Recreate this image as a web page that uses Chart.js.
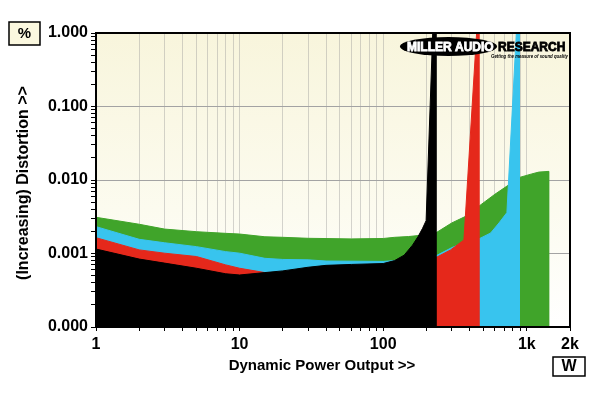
<!DOCTYPE html>
<html>
<head>
<meta charset="utf-8">
<script src="https://cdn.jsdelivr.net/npm/chart.js@4"></script>
<style>
  html, body { margin: 0; padding: 0; background: #fff; }
</style>
</head>
<body>
<canvas id="myChart" width="600" height="393"></canvas>
<script>
// power (W) / distortion (%)
const blackW   = [1, 2, 3, 5, 8, 10, 15, 20, 30, 40, 60, 100, 120, 140, 160, 175, 188, 199, 222, 233, 233];
const blackPct = [0.00115, 0.00084, 0.00074, 0.00063, 0.00053, 0.00051, 0.00055, 0.00058, 0.00065, 0.00069, 0.00071, 0.00073, 0.0008, 0.00095, 0.0013, 0.0017, 0.0022, 0.0028, 1.2, 1.2, 0.0001];

const redW   = [1, 2, 3, 5, 8, 10, 15, 20, 40, 100, 200, 233, 295, 365, 450, 464, 464];
const redPct = [0.00164, 0.00112, 0.00101, 0.00091, 0.0007, 0.00063, 0.00055, 0.00055, 0.0006, 0.00068, 0.0008, 0.00088, 0.00112, 0.00153, 1.2, 1.2, 0.0001];

const cyanW   = [1, 2, 3, 5, 8, 10, 15, 20, 30, 40, 100, 120, 200, 233, 300, 365, 464, 560, 640, 727, 850, 890, 890];
const cyanPct = [0.00232, 0.00156, 0.0014, 0.00124, 0.00106, 0.00101, 0.00086, 0.00083, 0.00082, 0.00079, 0.00078, 0.0008, 0.0009, 0.00093, 0.0012, 0.0014, 0.00158, 0.0019, 0.0026, 0.0036, 1.2, 1.2, 0.0001];

const greenW   = [1, 2, 3, 5, 8, 10, 15, 20, 30, 60, 100, 120, 150, 200, 233, 300, 375, 464, 600, 750, 900, 1084, 1212, 1420, 1420];
const greenPct = [0.00311, 0.0025, 0.00215, 0.00198, 0.00188, 0.00184, 0.00169, 0.00166, 0.00161, 0.00158, 0.0016, 0.00166, 0.0017, 0.0018, 0.00191, 0.0026, 0.0032, 0.0044, 0.0064, 0.0086, 0.0109, 0.0121, 0.0128, 0.0131, 0.0001];

// tick labels
const xLabelVals = [1, 10, 100, 1000, 2000];
const xLabelTxt  = ['1', '10', '100', '1k', '2k'];
const yLabelVals = [0.0001, 0.001, 0.01, 0.1, 1];
const yLabelTxt  = ['0.000', '0.001', '0.010', '0.100', '1.000'];

const FONT = "'Liberation Sans', Arial, sans-serif";

function pts(xs, ys) {
  return xs.map((x, i) => ({ x: x, y: ys[i] }));
}
function findLabel(v, vals, txt) {
  for (let i = 0; i < vals.length; i++) {
    if (Math.abs(Math.log10(v) - Math.log10(vals[i])) < 1e-6) return txt[i];
  }
  return '';
}
function isDecade(v) {
  const l = Math.log10(v);
  return Math.abs(l - Math.round(l)) < 1e-6;
}
// drop the 1.5 x 10^n steps chart.js adds, keep 1..9 x 10^n
function keepSteps(scale) {
  scale.ticks = scale.ticks.filter(t => {
    const m = t.value / Math.pow(10, Math.floor(Math.log10(t.value) + 1e-9));
    return Math.abs(m - Math.round(m)) < 1e-6;
  });
}

function area(label, xs, ys, col) {
  return {
    label: label,
    data: pts(xs, ys),
    backgroundColor: col,
    borderColor: col,
    borderWidth: 1,
    pointRadius: 0,
    tension: 0,
    fill: 'start'
  };
}

const decor = {
  id: 'decor',
  beforeDraw(chart) {
    const { ctx, chartArea: a } = chart;
    const g = ctx.createLinearGradient(0, a.top, 0, a.bottom);
    g.addColorStop(0, '#f8f5dc');
    g.addColorStop(0.6, '#fcfbef');
    g.addColorStop(1, '#ffffff');
    ctx.save();
    ctx.fillStyle = g;
    ctx.fillRect(a.left, a.top, a.right - a.left, a.bottom - a.top);
    ctx.restore();
  },
  afterDraw(chart) {
    const { ctx, chartArea: a } = chart;
    ctx.save();
    // frame
    ctx.strokeStyle = '#000';
    ctx.lineWidth = 2;
    ctx.strokeRect(a.left, a.top, a.right - a.left, a.bottom - a.top);

    // axis titles
    ctx.fillStyle = '#000';
    ctx.font = 'bold 15px ' + FONT;
    ctx.textAlign = 'center';
    ctx.textBaseline = 'middle';
    ctx.fillText('Dynamic Power Output >>', 322, 366);
    ctx.save();
    ctx.translate(24, 183);
    ctx.rotate(-Math.PI / 2);
    ctx.font = 'bold 16px ' + FONT;
    ctx.fillText('(Increasing) Distortion >>', 0, 0);
    ctx.restore();

    // unit boxes
    ctx.lineWidth = 1.5;
    ctx.fillStyle = '#fbf8df';
    ctx.fillRect(9, 22, 31, 23);
    ctx.strokeRect(9, 22, 31, 23);
    ctx.fillStyle = '#fff';
    ctx.fillRect(553, 357, 32, 19);
    ctx.strokeRect(553, 357, 32, 19);
    ctx.fillStyle = '#000';
    ctx.font = 'bold 15px ' + FONT;
    ctx.fillText('%', 24.5, 34);
    ctx.font = 'bold 16px ' + FONT;
    ctx.fillText('W', 569, 367);

    // logo
    ctx.beginPath();
    ctx.ellipse(448.5, 46.5, 48.5, 9.5, 0, 0, Math.PI * 2);
    ctx.fillStyle = '#000';
    ctx.fill();
    ctx.textAlign = 'left';
    ctx.textBaseline = 'alphabetic';
    ctx.font = 'bold 12px ' + FONT;
    ctx.lineWidth = 0.8;
    ctx.fillStyle = '#fff';
    ctx.strokeStyle = '#fff';
    ctx.fillText('MILLER AUDIO', 407, 51, 88);
    ctx.strokeText('MILLER AUDIO', 407, 51, 88);
    ctx.fillStyle = '#000';
    ctx.strokeStyle = '#000';
    ctx.fillText('RESEARCH', 498, 51, 70);
    ctx.strokeText('RESEARCH', 498, 51, 70);
    ctx.font = 'bold italic 6px ' + FONT;
    ctx.fillText('Getting the measure of sound quality', 491, 57.5, 77);
    ctx.restore();
  }
};

new Chart(document.getElementById('myChart'), {
  type: 'line',
  data: {
    datasets: [
      area('Black', blackW, blackPct, '#000000'),
      area('Red', redW, redPct, '#e5281b'),
      area('Cyan', cyanW, cyanPct, '#38c4ee'),
      area('Green', greenW, greenPct, '#40a42a')
    ]
  },
  options: {
    responsive: false,
    animation: false,
    layout: { padding: { top: 33, right: 30, left: 0, bottom: 0 } },
    plugins: { legend: { display: false }, tooltip: { enabled: false } },
    scales: {
      x: {
        type: 'logarithmic',
        min: 1,
        max: 2000,
        z: 1,
        afterFit(s) { s.height = 66; },
        afterBuildTicks: keepSteps,
        border: { display: false },
        grid: { color: 'rgba(150,150,150,0.4)', tickColor: '#000', tickLength: 4 },
        ticks: {
          autoSkip: false,
          maxRotation: 0,
          padding: 4,
          color: '#000',
          font: { family: FONT, size: 16, weight: 'bold' },
          callback: v => findLabel(v, xLabelVals, xLabelTxt)
        }
      },
      y: {
        type: 'logarithmic',
        min: 0.0001,
        max: 1,
        afterFit(s) { s.width = 96; },
        afterBuildTicks: keepSteps,
        border: { display: false },
        grid: {
          color: c => (c.tick && isDecade(c.tick.value)) ? '#a3a3a3' : 'rgba(0,0,0,0)',
          tickColor: '#000',
          tickLength: 5
        },
        ticks: {
          autoSkip: false,
          padding: 3,
          color: '#000',
          font: { family: FONT, size: 16, weight: 'bold' },
          callback: v => findLabel(v, yLabelVals, yLabelTxt)
        }
      }
    }
  },
  plugins: [decor]
});
</script>
</body>
</html>
